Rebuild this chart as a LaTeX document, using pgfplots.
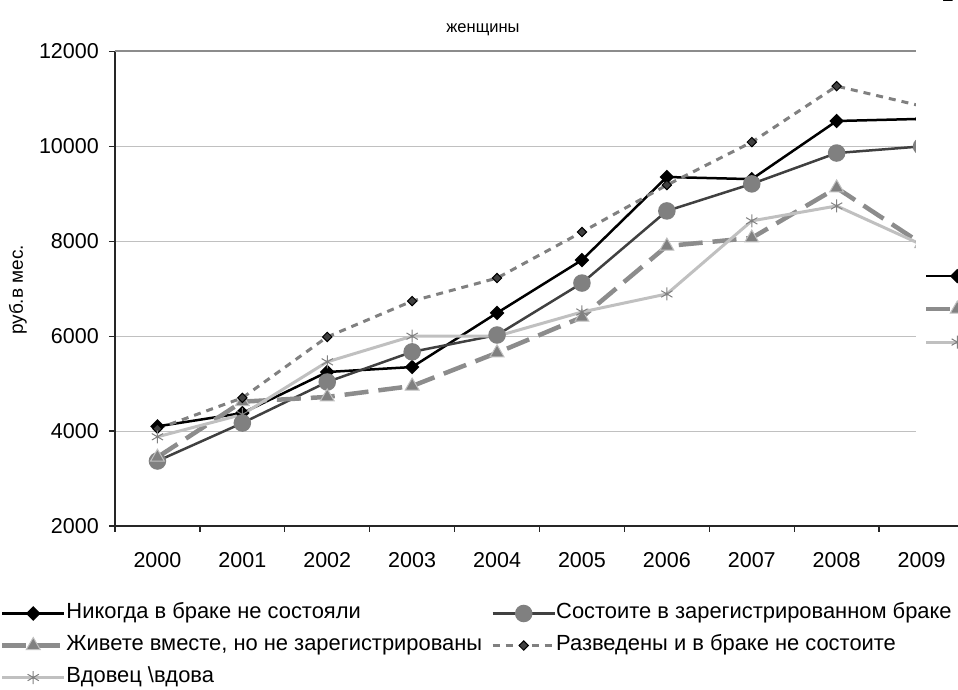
\documentclass[border=0pt]{standalone}
\usepackage{fontspec}
\setmainfont{Liberation Sans}
\usepackage{pgfplots}
\pgfplotsset{compat=1.18}

\definecolor{dgray}{HTML}{404040}
\definecolor{mgray}{HTML}{808080}
\definecolor{lgray}{HTML}{C0C0C0}
\definecolor{dashgray}{HTML}{8C8C8C}

% series styles (used by the plot and by both legends)
\pgfplotsset{
  s1/.style={black, line width=2.5pt, mark=square*, mark size=3.9pt,
    mark options={rotate=45, solid, fill=black}},
  s2/.style={dgray, line width=2.5pt, mark=*, mark size=7.5pt,
    mark options={solid, draw=mgray, fill=mgray}},
  s3/.style={dashgray, line width=4.5pt, dash pattern=on 24pt off 10pt, mark=triangle*, mark size=8pt,
    mark options={solid, line width=1pt, draw=lgray, fill=mgray}},
  s4/.style={mgray, line width=3pt, dash pattern=on 7pt off 6pt, mark=square*, mark size=3.3pt,
    mark options={rotate=45, solid, line width=1pt, draw=black, fill=dgray}},
  s5/.style={lgray, line width=3pt, mark=asterisk, mark size=6.5pt,
    mark options={solid, line width=1pt, draw=mgray}},
  leg/.style={
    legend image code/.code={\draw[mark repeat=2,mark phase=2,##1] plot coordinates {(0pt,0pt) (31pt,0pt) (62pt,0pt)};},
    legend style={draw=none, fill=none, inner sep=0pt, outer sep=0pt,
      font=\fontsize{21.9}{26}\selectfont,
      nodes={inner sep=0pt, text height=17pt, text depth=8pt},
      row sep=8pt, column sep=0pt,
      /tikz/column 2/.style={column sep=9pt}},
    legend cell align=left,
  },
}

\begin{document}
\begin{tikzpicture}[x=1pt,y=1pt]
\path[use as bounding box] (0,0) rectangle (958,690);

\begin{axis}[
  at={(115pt,164pt)}, anchor=south west,
  scale only axis, width=849pt, height=474.5pt,
  xmin=-0.5, xmax=9.5, ymin=2000, ymax=12000,
  axis x line*=bottom, axis y line*=left,
  axis line style={line width=1.5pt, color=black!85},
  xtick={0,...,9},
  xticklabels={2000,2001,2002,2003,2004,2005,2006,2007,2008,2009},
  minor xtick={-0.5,0.5,...,9.5},
  ytick={2000,4000,...,10000},
  extra y ticks={12000},
  extra y tick style={grid style={color=black!45, line width=2pt}},
  ymajorgrids,
  grid style={lgray, line width=1pt},
  tick align=outside,
  major tick length=6pt, minor tick length=6pt,
  major x tick style={draw=none},
  tick style={line width=1.3pt, color=black!85},
  ticklabel style={font=\fontsize{21.5}{25}\selectfont},
  /pgf/number format/assume math mode=true,
  scaled y ticks=false,
  yticklabel style={/pgf/number format/1000 sep={}, inner sep=0pt, xshift=-10pt},
  xticklabel style={inner sep=0pt, yshift=-20pt},
  leg,
  legend columns=2,
  legend style={at={(-0.13545,-0.1581)}, anchor=north west, row sep=7pt},
]
\addplot[s1] coordinates {(0,4100) (1,4380) (2,5245) (3,5350) (4,6490) (5,7605) (6,9355) (7,9310) (8,10535) (9,10580)};
\addlegendentry{Никогда в браке не состояли}
\addplot[s2] coordinates {(0,3370) (1,4170) (2,5035) (3,5670) (4,6025) (5,7120) (6,8640) (7,9210) (8,9860) (9,10000)};
\addlegendentry{Состоите в зарегистрированном браке}
\addplot[s3] coordinates {(0,3450) (1,4620) (2,4720) (3,4950) (4,5650) (5,6400) (6,7900) (7,8070) (8,9125) (9,7950)};
\addlegendentry{Живете вместе, но не зарегистрированы}
\addplot[s4] coordinates {(0,4050) (1,4700) (2,5985) (3,6740) (4,7225) (5,8195) (6,9185) (7,10090) (8,11270) (9,10850)};
\addlegendentry{Разведены и в браке не состоите}
\addplot[s5] coordinates {(0,3880) (1,4350) (2,5460) (3,6000) (4,6000) (5,6510) (6,6890) (7,8430) (8,8745) (9,7930)};
\addlegendentry{Вдовец \textbackslash вдова}
\end{axis}

% the cut-off legend box on the right covers the end of the plot area
\fill[white] (916,167) rectangle (960,692);

\begin{axis}[
  at={(0pt,0pt)}, anchor=south west,
  scale only axis, width=958pt, height=690pt,
  xmin=0, xmax=1, ymin=0, ymax=1, hide axis,
  leg,
  legend style={at={(0.9645,0.6180)}, anchor=north west},
]
\addlegendimage{s1}\addlegendentry{Никогда в браке не состояли}
\addlegendimage{s3}\addlegendentry{Живете вместе, но не зарегистрированы}
\addlegendimage{s5}\addlegendentry{Вдовец \textbackslash вдова}
\end{axis}

\node[font=\fontsize{16.5}{20}\selectfont] at (483,660) {женщины};
\node[font=\fontsize{19}{22}\selectfont, rotate=90] at (18,400) {руб.в мес.};
\node[font=\fontsize{21}{25}\selectfont, anchor=base, inner sep=0pt] at (948,688) {2};
\end{tikzpicture}
\end{document}
